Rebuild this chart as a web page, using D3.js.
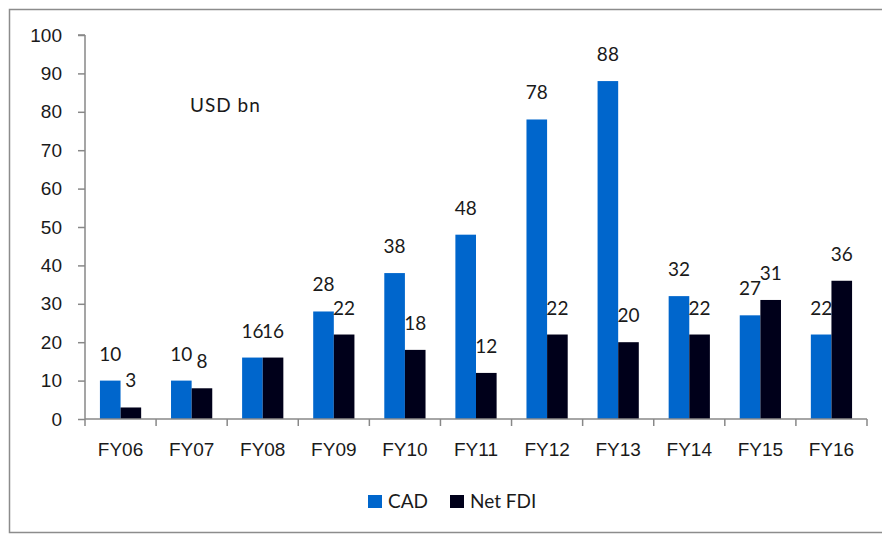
<!DOCTYPE html>
<html>
<head>
<meta charset="utf-8">
<script src="https://cdn.jsdelivr.net/npm/d3@7"></script>
<style>
  body { margin: 0; background: #fff; }
  svg { display: block; font-family: Lato, "Open Sans", sans-serif; }
</style>
</head>
<body>
<div id="chart"></div>
<script>
const categories = ["FY06", "FY07", "FY08", "FY09", "FY10", "FY11", "FY12", "FY13", "FY14", "FY15", "FY16"];
const cadValues = [10, 10, 16, 28, 38, 48, 78, 88, 32, 27, 22];
const fdiValues = [3, 8, 16, 22, 18, 12, 22, 20, 22, 31, 36];
const yTicks = [0, 10, 20, 30, 40, 50, 60, 70, 80, 90, 100];
const seriesNames = ["CAD", "Net FDI"];
const seriesColors = ["#0066cc", "#00001a"];

const svgWidth = 882, svgHeight = 534;
const fontSize = 19;
let plot = {left: 85, right: 867, top: 35, bottom: 419};

let data = categories.map((c, i) => ({cat: c, values: [cadValues[i], fdiValues[i]]}));

let svg = d3.select("#chart")
  .append("svg")
  .attr("width", svgWidth)
  .attr("height", svgHeight);

// frame
svg.append("path")
  .attr("d", `M${svgWidth + 2},9.5 H9.5 V532.5 H${svgWidth + 2}`)
  .attr("fill", "none")
  .attr("stroke", "#8c8c8c")
  .attr("stroke-width", 1.5);

let xScale = d3.scaleBand()
  .domain(categories)
  .range([plot.left, plot.right])
  .paddingInner(0.42)
  .paddingOuter(0.21);

let xSub = d3.scaleBand()
  .domain([0, 1])
  .range([0, xScale.bandwidth()]);

let yScale = d3.scaleLinear()
  .domain([0, 100])
  .range([plot.bottom, plot.top]);

// bars
let groups = svg.append("g")
  .attr("class", "bars")
  .selectAll("g")
  .data(data)
  .enter()
  .append("g")
  .attr("transform", (d) => `translate(${xScale(d.cat)},0)`);

groups.selectAll("rect")
  .data((d) => d.values)
  .enter()
  .append("rect")
  .attr("x", (d, i) => xSub(i))
  .attr("y", (d) => yScale(d))
  .attr("width", xSub.bandwidth())
  .attr("height", (d) => yScale(0) - yScale(d))
  .attr("fill", (d, i) => seriesColors[i]);

groups.selectAll("text")
  .data((d) => d.values)
  .enter()
  .append("text")
  .attr("x", (d, i) => xSub(i) + xSub.bandwidth() / 2)
  .attr("y", (d) => yScale(d) - 20)
  .attr("text-anchor", "middle")
  .attr("font-size", fontSize)
  .attr("fill", "#1a1a1a")
  .text((d) => d);

// y axis
let yAxis = d3.axisLeft(yScale)
  .tickValues(yTicks)
  .tickSize(7)
  .tickPadding(16);

let gy = svg.append("g")
  .attr("class", "y-axis")
  .attr("transform", `translate(${plot.left},0)`)
  .call(yAxis);
gy.selectAll("line, path").attr("stroke", "#888").attr("stroke-width", 1.5);
gy.select(".domain").attr("d", `M0,${plot.top}V${plot.bottom}M-7,${plot.top}H0`);
gy.selectAll("text").attr("font-size", fontSize).attr("fill", "#1a1a1a").attr("font-family", null);

// x axis
let xAxis = d3.axisBottom(xScale)
  .tickSize(0)
  .tickPadding(24);

let gx = svg.append("g")
  .attr("class", "x-axis")
  .attr("transform", `translate(0,${plot.bottom})`)
  .call(xAxis);
gx.select(".domain").attr("d", `M${plot.left},0H${plot.right}`).attr("stroke", "#888").attr("stroke-width", 1.5);
gx.selectAll("text").attr("font-size", fontSize).attr("fill", "#1a1a1a").attr("font-family", null);

let step = xScale.step();
gx.append("g")
  .selectAll("line")
  .data(d3.range(categories.length + 1))
  .enter()
  .append("line")
  .attr("x1", (d) => plot.left + d * step)
  .attr("x2", (d) => plot.left + d * step)
  .attr("y1", 0)
  .attr("y2", 7)
  .attr("stroke", "#888")
  .attr("stroke-width", 1.5);

// unit label
svg.append("text")
  .attr("x", 190)
  .attr("y", 112)
  .attr("font-size", fontSize)
  .attr("letter-spacing", 1)
  .attr("fill", "#1a1a1a")
  .text("USD bn");

// legend
let legendX = [368, 450];
let legend = svg.append("g")
  .attr("class", "legend")
  .selectAll("g")
  .data(seriesNames)
  .enter()
  .append("g")
  .attr("transform", (d, i) => `translate(${legendX[i]},495)`);

legend.append("rect")
  .attr("width", 14)
  .attr("height", 13)
  .attr("fill", (d, i) => seriesColors[i]);

legend.append("text")
  .attr("x", 20)
  .attr("y", 13)
  .attr("font-size", fontSize)
  .attr("fill", "#1a1a1a")
  .text((d) => d);
</script>
</body>
</html>
